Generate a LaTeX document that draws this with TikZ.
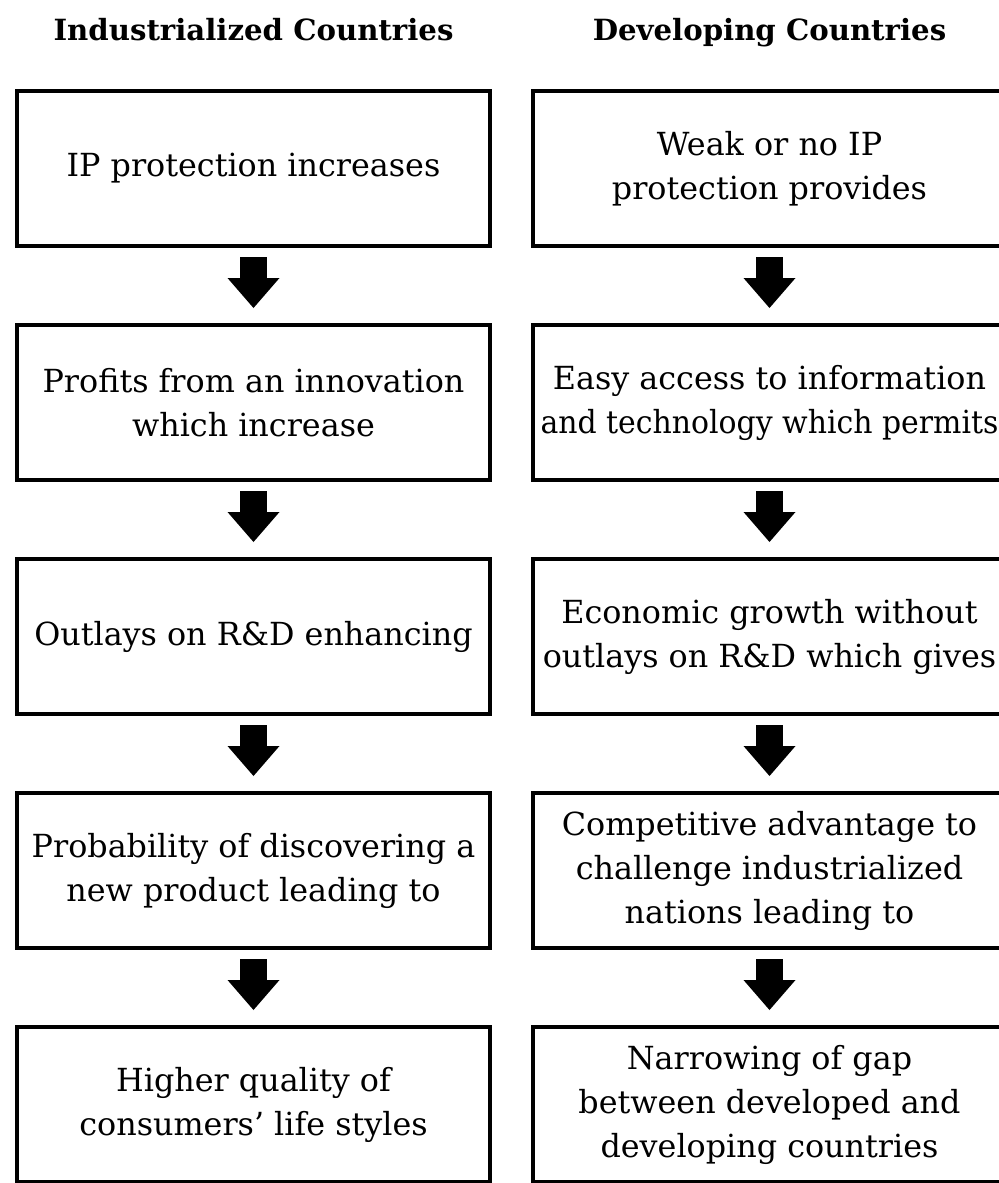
\documentclass[tikz,border=0pt]{standalone}
\usepackage{fontspec}
\usepackage{graphicx}
\setmainfont{DejaVu Serif}
\usetikzlibrary{arrows.meta, positioning}
\tikzset{
    % Boxes
    stage/.style={rectangle, draw=black, line width=2pt, inner sep=0pt,
                  minimum width=236.5pt, minimum height=77.5pt, align=center,
                  font=\fontsize{15.9}{22}\selectfont},
    colhead/.style={inner sep=0pt, font=\bfseries\fontsize{14.6}{18}\selectfont},
    % Block arrows
    fat/.style={line width=13.5pt, -{Triangle[length=15pt, width=26pt, line width=0pt]},
                shorten <=4.5pt, shorten >=7.5pt}
}

\begin{document}
\begin{tikzpicture}[node distance=37.5pt and 19.5pt]
\useasboundingbox (0,0) rectangle (499.5pt,-591.5pt);

% left column
\node[stage] (ip) at (126.75pt,-84.25pt) {IP protection increases};
\node[stage, below=of ip] (profit) {Profits from an innovation\\which increase};
\node[stage, below=of profit] (outlay) {Outlays on R\&D enhancing};
\node[stage, below=of outlay] (prob) {Probability of discovering a\\new product leading to};
\node[stage, below=of prob] (life) {Higher quality of\\consumers' life styles};

% right column
\node[stage, right=of ip] (weak) {Weak or no IP\\protection provides};
\node[stage, right=of profit] (access) {Easy access to information\\\scalebox{0.94}[1]{and technology which permits}};
\node[stage, right=of outlay] (growth) {Economic growth without\\outlays on R\&D which gives};
\node[stage, right=of prob] (edge) {Competitive advantage to\\challenge industrialized\\nations leading to};
\node[stage, right=of life] (gap) {Narrowing of gap\\between developed and\\developing countries};

% headings
\node[colhead, above=24.5pt of ip, anchor=base] (indhead) {Industrialized Countries};
\node[colhead, above=24.5pt of weak, anchor=base] (devhead) {Developing Countries};

\draw[fat] (ip) -- (profit);
\draw[fat] (profit) -- (outlay);
\draw[fat] (outlay) -- (prob);
\draw[fat] (prob) -- (life);

\draw[fat] (weak) -- (access);
\draw[fat] (access) -- (growth);
\draw[fat] (growth) -- (edge);
\draw[fat] (edge) -- (gap);

\end{tikzpicture}
\end{document}
